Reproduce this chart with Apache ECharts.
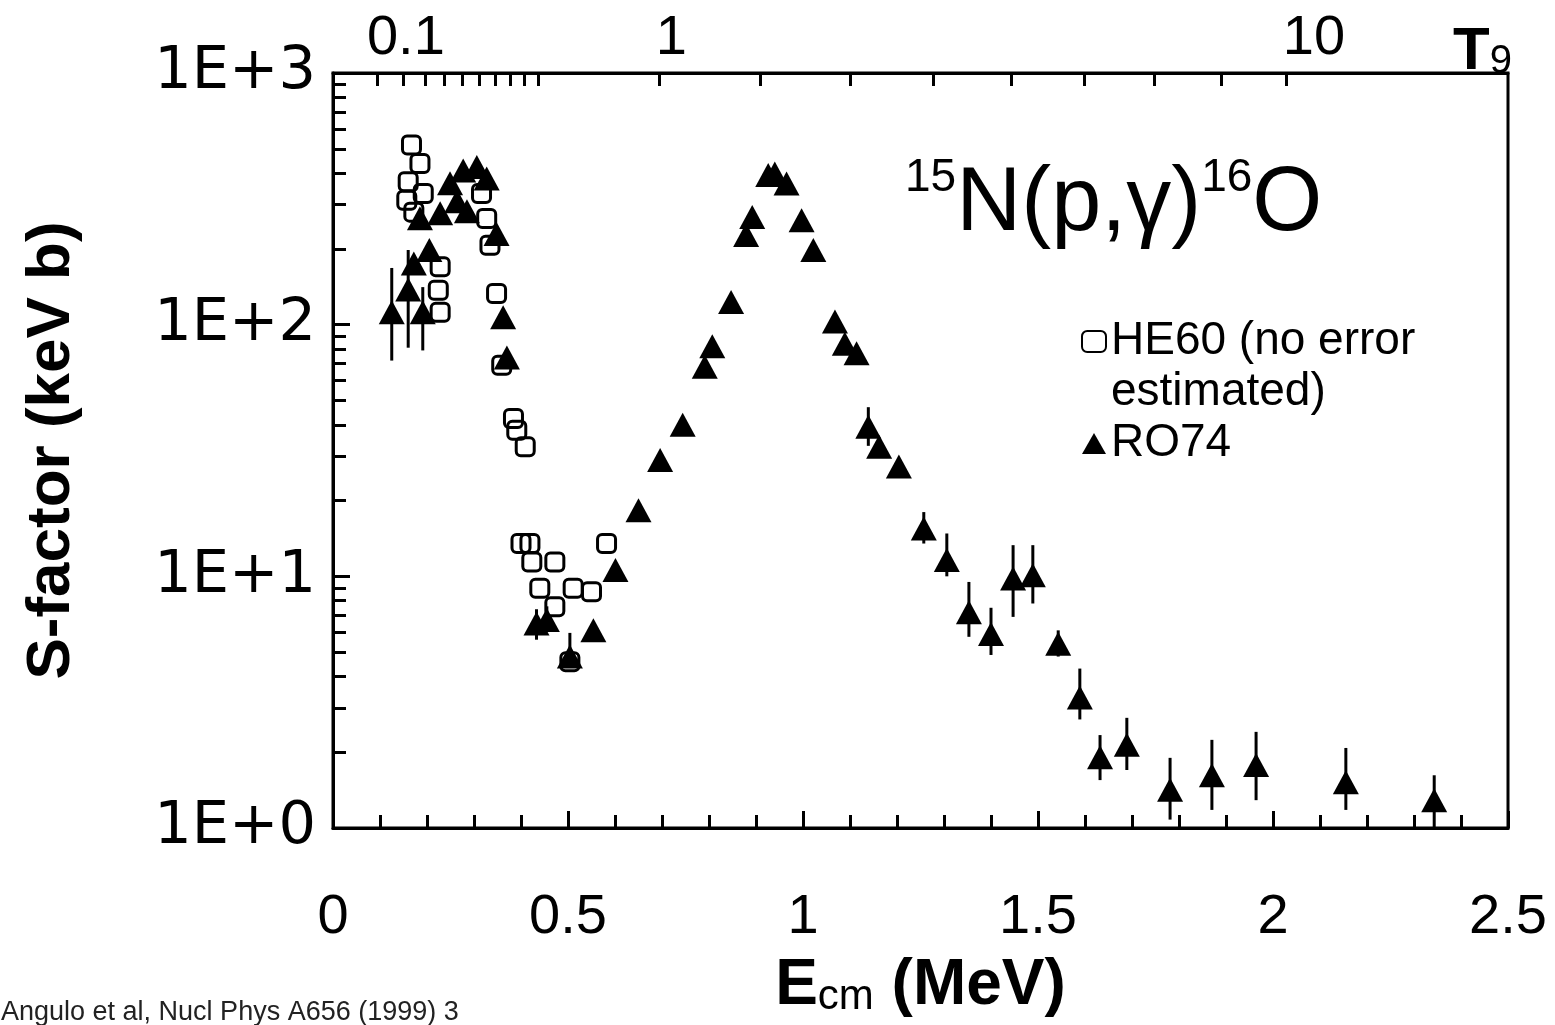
<!DOCTYPE html>
<html>
<head>
<meta charset="utf-8">
<title>15N(p,γ)16O S-factor</title>
<script src="https://cdn.jsdelivr.net/npm/echarts@6/dist/echarts.min.js"></script>
<style>
    html, body { margin: 0; padding: 0; background: #fff; }
    #chart { width: 1555px; height: 1025px; }
</style>
</head>
<body>
<div id="chart"></div>
<script>
// HE60 – open symbols, no error estimated (E in MeV, S in keV b)
const he60E = [0.157, 0.160, 0.167, 0.172, 0.185, 0.192, 0.224, 0.228, 0.228, 0.316, 0.327, 0.334, 0.348, 0.359,
    0.384, 0.391, 0.409, 0.400, 0.419, 0.423, 0.440, 0.472, 0.472, 0.504, 0.511, 0.550, 0.582];
const he60S = [312, 370, 517, 280, 437, 332, 137, 112, 170, 332, 264, 207, 133, 69,
    42.4, 38.1, 32.7, 13.5, 13.5, 11.4, 8.96, 11.4, 7.57, 4.58, 8.96, 8.69, 13.5];

// RO74 – filled triangles, with error bars where they are visible (null = no bar)
const ro74E = [0.125, 0.160, 0.191, 0.172, 0.185, 0.205, 0.228, 0.249, 0.264, 0.277, 0.285, 0.306, 0.327, 0.348,
    0.362, 0.370, 0.433, 0.455, 0.504, 0.554, 0.601, 0.650, 0.696, 0.744, 0.791, 0.807, 0.847, 0.879, 0.892,
    0.926, 0.940, 0.965, 0.997, 1.022, 1.068, 1.089, 1.114, 1.139, 1.162, 1.204, 1.257, 1.306, 1.353, 1.400,
    1.447, 1.489, 1.543, 1.589, 1.632, 1.689, 1.781, 1.870, 1.964, 2.155, 2.343];
const ro74S = [112, 138, 112, 175, 265, 198, 277, 365, 309, 410, 282, 423, 381, 229,
    107, 74, 6.5, 6.7, 4.8, 6.1, 10.6, 18.3, 29, 40, 68, 82, 123, 227, 268,
    393, 399, 364, 260, 198, 103, 84, 77, 39.3, 32.7, 27.3, 15.5, 11.6, 7.2, 5.9,
    9.8, 10.1, 5.4, 3.3, 1.91, 2.14, 1.42, 1.62, 1.78, 1.52, 1.29];
const ro74Lo = [72, 81, 79, null, null, null, null, null, null, null, null, null, null, null,
    null, null, 5.6, 6.0, 4.5, null, null, null, null, null, null, null, null, null, null,
    null, null, null, null, null, null, null, null, 33, null, null, 13.5, 10.0, 5.75, 4.87,
    6.9, 7.8, 4.8, 2.7, 1.55, 1.70, 1.08, 1.18, 1.29, 1.18, 1.0];
const ro74Hi = [168, 198, 141, null, null, null, null, null, null, null, null, null, null, null,
    null, null, 7.4, 7.6, 5.96, null, null, null, null, null, null, null, null, null, null,
    null, null, null, null, null, null, null, null, 47, null, null, 18, 14.8, 9.5, 7.5,
    13.3, 13.3, 6.1, 4.3, 2.34, 2.74, 1.90, 2.24, 2.41, 2.08, 1.62];

// y minor ticks (2..9 in every decade)
const yMinorTicks = [2, 3, 4, 5, 6, 7, 8, 9, 20, 30, 40, 50, 60, 70, 80, 90, 200, 300, 400, 500, 600, 700, 800, 900];

// top axis: temperature T9, placed at the Gamow peak energy of p + 15N
const t9Ticks = [0.1, 0.2, 0.3, 0.4, 0.5, 0.6, 0.7, 0.8, 0.9, 1, 2, 3, 4, 5, 6, 7, 8, 9, 10];
const t9Labels = ['0.1', '1', '10'];
const t9LabelE = [0.155, 0.72, 2.087]; // where the labels sit in the figure
const gamowE = t9 => 0.437 * Math.pow(t9, 2 / 3);

const he60Name = 'HE60 (no error\nestimated)';
const ro74Name = 'RO74';

const chart = echarts.init(document.getElementById('chart'));
const black = '#000';
const font = '"Liberation Sans", Arial, sans-serif';

const he60Data = he60E.map((e, i) => [e, he60S[i]]);
const ro74Data = ro74E.map((e, i) => [e, ro74S[i]]);
const errData = ro74E.map((e, i) => [e, ro74Lo[i], ro74Hi[i]]).filter(d => d[1] != null);

const option = {
    backgroundColor: '#fff',
    animation: false,
    grid: {
        left: 333, right: 47, top: 73, bottom: 197,
        show: true, borderColor: black, borderWidth: 3
    },
    title: {
        text: '{sup|15}{m|N(p,γ)}{sup|16}{m|O}',
        left: 900, top: 150,
        textStyle: {
            rich: {
                m: { fontSize: 90, fontWeight: 'normal', fontFamily: font, color: black, lineHeight: 100 },
                sup: { fontSize: 46, fontWeight: 'normal', fontFamily: font, color: black, lineHeight: 20, verticalAlign: 'top' }
            }
        }
    },
    legend: {
        orient: 'vertical',
        left: 1076, top: 260,
        itemGap: 0,
        itemWidth: 24, itemHeight: 21,
        // a blank first line keeps the icon level with the first text line
        formatter: name => (name === he60Name ? '\n' : '') + name,
        textStyle: { fontSize: 46, fontFamily: font, color: black, lineHeight: 51 },
        data: [he60Name, ro74Name]
    },
    xAxis: [
        {
            type: 'value', position: 'bottom', min: 0, max: 2.5, interval: 0.5,
            axisLine: { lineStyle: { color: black, width: 3 } },
            axisTick: { inside: true, length: 17, lineStyle: { color: black, width: 3 } },
            minorTick: { show: true, splitNumber: 5, length: 13, lineStyle: { color: black, width: 3 } },
            axisLabel: { fontSize: 56, fontFamily: font, color: black, margin: 62 },
            splitLine: { show: false },
            name: '{b|E}{s|cm}{b| (MeV)}',
            nameLocation: 'middle', nameGap: 126,
            nameTextStyle: {
                rich: {
                    b: { fontSize: 64, fontWeight: 'bold', fontFamily: font, color: black, lineHeight: 64 },
                    s: { fontSize: 42, fontFamily: font, color: black, lineHeight: 30, verticalAlign: 'bottom' }
                }
            }
        },
        {
            type: 'value', position: 'top', min: 0, max: 2.5,
            axisLine: { lineStyle: { color: black, width: 3 } },
            axisTick: {
                inside: true, length: 13, lineStyle: { color: black, width: 3 },
                customValues: t9Ticks.map(gamowE)
            },
            axisLabel: {
                fontSize: 56, fontFamily: font, color: black, margin: 6,
                customValues: t9LabelE,
                formatter: v => t9Labels[t9LabelE.indexOf(v)] || ''
            },
            splitLine: { show: false }
        }
    ],
    yAxis: [
        {
            type: 'log', logBase: 10, min: 1, max: 1000, position: 'left',
            axisLine: { lineStyle: { color: black, width: 3 } },
            axisTick: { inside: true, length: 17, lineStyle: { color: black, width: 3 } },
            axisLabel: {
                fontSize: 59, fontFamily: '"DejaVu Sans", sans-serif', color: black, margin: 17,
                formatter: v => '1E+' + Math.round(Math.log10(v))
            },
            splitLine: { show: false },
            name: 'S-factor (keV b)',
            nameLocation: 'middle', nameGap: 250,
            nameTextStyle: { fontSize: 62, fontWeight: 'bold', fontFamily: font, color: black }
        },
        {
            type: 'log', logBase: 10, min: 1, max: 1000, position: 'left',
            axisLine: { show: false },
            axisTick: {
                inside: true, length: 13, lineStyle: { color: black, width: 3 },
                customValues: yMinorTicks
            },
            axisLabel: { show: false },
            splitLine: { show: false }
        }
    ],
    graphic: [
        {
            type: 'text', left: 1453, top: 22,
            style: {
                text: '{b|T}{s|9}',
                rich: {
                    b: { fontSize: 60, fontWeight: 'bold', fontFamily: font, fill: black, lineHeight: 60 },
                    s: { fontSize: 40, fontFamily: font, fill: black, lineHeight: 30, verticalAlign: 'bottom' }
                }
            }
        },
        {
            type: 'text', left: 1, top: 999,
            style: { text: 'Angulo et al, Nucl Phys A656 (1999) 3', fontSize: 27, fontFamily: font, fill: '#222' }
        }
    ],
    series: [
        {
            name: he60Name,
            type: 'scatter',
            xAxisIndex: 0, yAxisIndex: 0,
            symbol: 'roundRect', symbolSize: 18,
            itemStyle: { color: 'rgba(255,255,255,0)', borderColor: black, borderWidth: 3, opacity: 1 },
            data: he60Data
        },
        {
            name: 'RO74 error',
            type: 'custom',
            xAxisIndex: 0, yAxisIndex: 0,
            encode: { x: 0, y: [1, 2] },
            renderItem: (params, api) => {
                const lo = api.coord([api.value(0), api.value(1)]);
                const hi = api.coord([api.value(0), api.value(2)]);
                return {
                    type: 'line',
                    shape: { x1: lo[0], y1: lo[1], x2: hi[0], y2: hi[1] },
                    style: { stroke: black, lineWidth: 3 }
                };
            },
            data: errData
        },
        {
            name: ro74Name,
            type: 'scatter',
            xAxisIndex: 0, yAxisIndex: 0,
            symbol: 'triangle', symbolSize: [26, 24],
            itemStyle: { color: black, opacity: 1 },
            data: ro74Data
        }
    ]
};

chart.setOption(option);
</script>
</body>
</html>
